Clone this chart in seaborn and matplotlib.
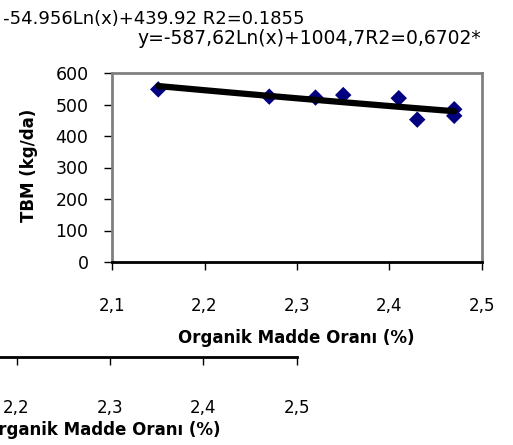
import numpy as np
import pandas as pd
import matplotlib
matplotlib.use("Agg")
import matplotlib.pyplot as plt
import seaborn as sns

# Organik madde oranı (%) ve TBM (kg/da) değerleri
organik_madde = [2.15, 2.27, 2.32, 2.35, 2.41, 2.43, 2.47, 2.47]
tbm = [548, 525, 522, 530, 520, 452, 485, 464]

x_ticks = [2.1, 2.2, 2.3, 2.4, 2.5]
x_tick_labels = ["2,1", "2,2", "2,3", "2,4", "2,5"]
y_ticks = [0, 100, 200, 300, 400, 500, 600]
y_tick_labels = ["0", "100", "200", "300", "400", "500", "600"]

# alttaki (kesilmiş) ikinci grafiğin ekseni
alt_ticks = [2.1, 2.2, 2.3, 2.4, 2.5]
alt_tick_labels = ["2,1", "2,2", "2,3", "2,4", "2,5"]

denklem_1 = "y = -54.956Ln(x)+439.92 R2=0.1855"
denklem_2 = "y=-587,62Ln(x)+1004,7R2=0,6702*"
x_etiket = "Organik Madde Oranı (%)"
y_etiket = "TBM (kg/da)"

data = pd.DataFrame({"OM": organik_madde, "TBM": tbm})

sns.set_style("white")
plt.rcParams["font.family"] = ["DejaVu Sans"]
plt.rcParams["text.color"] = "black"
plt.rcParams["axes.labelcolor"] = "black"
plt.rcParams["xtick.color"] = "black"
plt.rcParams["ytick.color"] = "black"

W, H = 513, 445
fig = plt.figure(figsize=(W / 100, H / 100), dpi=100)

# Ana grafik
ax = fig.add_axes([112 / W, 1 - 262 / H, (482 - 112) / W, (262 - 73) / H])
sns.regplot(data=data, x="OM", y="TBM", logx=True, ci=None, marker="D",
            color="#000080", ax=ax,
            scatter_kws={"s": 70, "color": "#000080", "alpha": 1,
                         "edgecolors": "none", "zorder": 2},
            line_kws={"color": "black", "lw": 4.5, "zorder": 3})

ax.set_xlim(2.1, 2.5)
ax.set_ylim(0, 600)
ax.set_xticks(x_ticks)
ax.set_xticklabels(x_tick_labels)
ax.set_yticks(y_ticks)
ax.set_yticklabels(y_tick_labels)
ax.tick_params(axis="x", direction="out", length=6, width=1,
               pad=19, labelsize=12)
ax.tick_params(axis="y", direction="out", length=6, width=1,
               pad=11, labelsize=12.5)
ax.tick_params(bottom=True, left=True)

for s in ["top", "right", "left"]:
    ax.spines[s].set_color("#808080")
    ax.spines[s].set_linewidth(2)
ax.spines["bottom"].set_color("black")
ax.spines["bottom"].set_linewidth(2)

ax.set_xlabel(x_etiket, fontsize=12, fontweight="bold", va="top")
ax.xaxis.set_label_coords(0.497, (262 - 329) / (262 - 73))
ax.set_ylabel(y_etiket, fontsize=12, fontweight="bold")
ax.yaxis.set_label_coords((38 - 112) / (482 - 112), 0.51)

# Alttaki grafiğin görünen ekseni
ax2 = fig.add_axes([-77 / W, 1 - 357 / H, (297 + 77) / W, 0.0005])
ax2.set_xlim(2.1, 2.5)
ax2.set_xticks(alt_ticks)
ax2.set_xticklabels(alt_tick_labels)
ax2.set_yticks([])
ax2.patch.set_visible(False)
for s in ["top", "right", "left"]:
    ax2.spines[s].set_visible(False)
ax2.spines["bottom"].set_color("black")
ax2.spines["bottom"].set_linewidth(2)
ax2.tick_params(axis="x", direction="out", length=6, width=1,
                pad=24, labelsize=12, bottom=True)
ax2.set_xlabel(x_etiket, fontsize=12, fontweight="bold", va="top")
ax2.xaxis.set_label_coords(102 / W, 1 - 421 / H, transform=fig.transFigure)

# Üstteki denklem yazıları
fig.text(305 / W, 1 - 19 / H, denklem_1, ha="right", va="center", fontsize=13)
fig.text(309 / W, 1 - 38 / H, denklem_2, ha="center", va="center", fontsize=13.5)

fig.savefig("out.png", dpi=100)
